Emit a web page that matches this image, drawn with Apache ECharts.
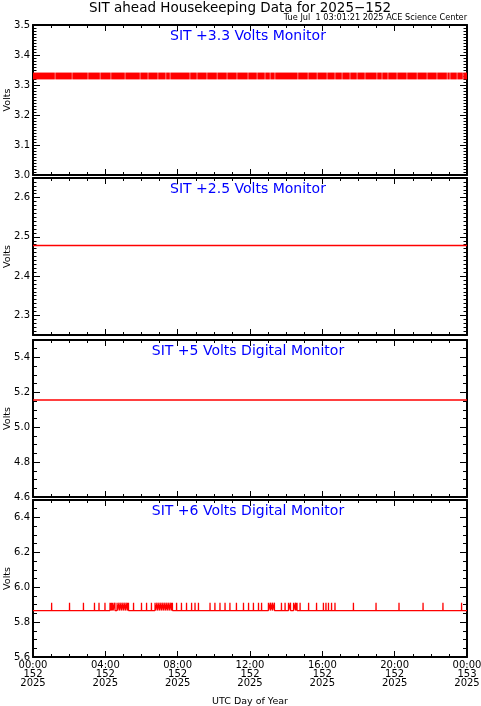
<!DOCTYPE html>
<html><head><meta charset="utf-8">
<script src="https://cdn.jsdelivr.net/npm/echarts@6/dist/echarts.min.js"></script>
<style>html,body{margin:0;padding:0;background:#fff}#c{width:481px;height:706px}</style>
</head><body><div id="c"></div>
<script>
// ---- tick labels ----
const xTickTimes = ['00:00','04:00','08:00','12:00','16:00','20:00','00:00'];
const xTickDays  = ['152','152','152','152','152','152','153'];
const xTickYears = ['2025','2025','2025','2025','2025','2025','2025'];

const panelTitles = ['SIT +3.3 Volts Monitor','SIT +2.5 Volts Monitor','SIT +5 Volts Digital Monitor','SIT +6 Volts Digital Monitor'];
const yMin = [3.0, 2.25, 4.6, 5.6];
const yMax = [3.5, 2.65, 5.5, 6.5];
const yMajorTicks = [
  [3.0,3.1,3.2,3.3,3.4,3.5],
  [2.3,2.4,2.5,2.6],
  [4.6,4.8,5.0,5.2,5.4],
  [5.6,5.8,6.0,6.2,6.4]
];
const yMinorStep = [0.01, 0.01, 0.05, 0.05];

// ---- data ----
// Panel 1: value toggles between two ADC levels; gaps where it holds
const p1Low = 3.3203, p1High = 3.3398;
const p1GapHours = [1.22,2.16,3.04,3.71,4.31,5.09,5.92,6.36,6.91,7.35,7.58,8.68,9.07,9.62,10.18,10.73,11.28,11.89,
  12.39,12.83,13.11,13.38,14.65,15.21,15.71,16.26,16.70,17.09,17.53,17.92,18.36,19.02,19.30,19.63,20.13,20.68,
  21.24,21.79,22.34,22.90,23.06,23.45,23.78];
// Panel 2 & 3: flat
const p2Hours = [0, 24], p2Volts = [2.478, 2.478];
const p3Hours = [0, 24], p3Volts = [5.156, 5.156];
// Panel 4: baseline with single-sample spikes
const p4BaseVolts = 5.866, p4SpikeVolts = 5.911;
const p4SpikeHours = [1.03,2.02,2.79,3.40,3.65,3.98,4.26,4.34,4.42,4.53,4.65,4.76,4.87,4.98,5.09,5.20,5.28,5.56,6.00,6.28,6.55,
  6.75,6.86,6.97,7.08,7.19,7.30,7.41,7.52,7.63,7.71,7.94,8.21,8.49,8.77,8.96,9.15,9.79,10.06,10.34,10.62,10.89,11.25,11.64,
  11.92,12.19,12.47,12.64,13.02,13.13,13.24,13.35,13.74,13.94,14.13,14.24,14.41,14.52,14.60,14.77,15.24,15.68,16.06,16.20,
  16.34,16.51,16.70,17.72,18.97,20.24,21.57,22.67,23.70];

// ---- build ----
const FONT = 'DejaVu Sans';
const RED = '#ff0000';
const gridTops = [25, 178, 340, 500];
const gridHeights = [150, 157, 157, 157];
const GL = 33, GW = 434;

const gapHalf = 0.013;
const p1Segs = [];
let s0 = 0;
p1GapHours.forEach(g => { p1Segs.push([s0, g - gapHalf, p1Low, p1High]); s0 = g + gapHalf; });
p1Segs.push([s0, 24, p1Low, p1High]);

const p4Data = [[0, p4BaseVolts]];
p4SpikeHours.forEach(h => { p4Data.push([h - 0.004, p4BaseVolts], [h, p4SpikeVolts], [h + 0.004, p4BaseVolts]); });
p4Data.push([24, p4BaseVolts]);

const grids = [], xAxes = [], yAxes = [];
const black = '#000';
for (let g = 0; g < 4; g++) {
  grids.push({left: GL, width: GW, top: gridTops[g], height: gridHeights[g], containLabel: false, outerBoundsMode: 'none'});
  const last = g === 3;
  ['bottom','top'].forEach(pos => {
    xAxes.push({
      gridIndex: g, type: 'value', position: pos, min: 0, max: 24, interval: 4,
      axisLine: {show: true, onZero: false, lineStyle: {color: black, width: 2}},
      axisTick: {show: true, inside: true, length: 6, lineStyle: {color: black, width: 1}},
      minorTick: {show: true, splitNumber: 4, length: 3, lineStyle: {color: black, width: 1}},
      splitLine: {show: false},
      axisLabel: {
        show: last && pos === 'bottom', margin: 4, color: black, fontFamily: FONT, fontSize: 10, lineHeight: 9,
        formatter: v => { const i = Math.round(v / 4); return xTickTimes[i] + '\n' + xTickDays[i] + '\n' + xTickYears[i]; }
      },
      name: (last && pos === 'bottom') ? 'UTC Day of Year' : '',
      nameLocation: 'middle', nameGap: 40, nameMoveOverlap: false,
      nameTextStyle: {color: black, fontFamily: FONT, fontSize: 9.5}
    });
  });
  ['left','right'].forEach(pos => {
    yAxes.push({
      gridIndex: g, type: 'value', position: pos, offset: 0, min: yMin[g], max: yMax[g],
      axisLine: {show: true, lineStyle: {color: black, width: 2}},
      axisTick: {show: true, inside: true, length: 7, customValues: yMajorTicks[g], lineStyle: {color: black, width: 1}},
      axisLabel: {show: pos === 'left', customValues: yMajorTicks[g], margin: 3, color: black, fontFamily: FONT, fontSize: 10,
        formatter: v => v.toFixed(1)},
      splitLine: {show: false},
      name: pos === 'left' ? 'Volts' : '', nameLocation: 'middle', nameGap: 20, nameRotate: 90, nameMoveOverlap: false,
      nameTextStyle: {color: black, fontFamily: FONT, fontSize: 9.5}
    });
    yAxes.push({
      gridIndex: g, type: 'value', position: pos, offset: 0, min: yMin[g], max: yMax[g], interval: yMinorStep[g],
      axisLine: {show: false},
      axisTick: {show: true, inside: true, length: g < 2 ? 3.5 : 4, lineStyle: {color: black, width: 1}},
      axisLabel: {show: false}, splitLine: {show: false}
    });
  });
}
// yAxis index per grid: left major = 4g
const series = [
  {
    type: 'custom', xAxisIndex: 0, yAxisIndex: 0, data: p1Segs, clip: true,
    encode: {x: [0, 1], y: [2, 3]},
    renderItem: (params, api) => {
      const a = api.coord([api.value(0), api.value(3)]);
      const b = api.coord([api.value(1), api.value(2)]);
      return {type: 'rect', shape: {x: a[0], y: a[1] - 0.5, width: Math.max(0, b[0] - a[0]), height: b[1] - a[1] + 1},
        style: {fill: RED}};
    }
  },
  {type: 'line', xAxisIndex: 2, yAxisIndex: 4, data: p2Hours.map((h, i) => [h, p2Volts[i]]), showSymbol: false, symbol: 'none',
    color: RED, itemStyle: {color: RED}, lineStyle: {color: RED, width: 1.3}},
  {type: 'line', xAxisIndex: 4, yAxisIndex: 8, data: p3Hours.map((h, i) => [h, p3Volts[i]]), showSymbol: false, symbol: 'none',
    color: RED, itemStyle: {color: RED}, lineStyle: {color: RED, width: 1.3}},
  {type: 'line', xAxisIndex: 6, yAxisIndex: 12, data: p4Data, showSymbol: false, symbol: 'none',
    color: RED, itemStyle: {color: RED}, lineStyle: {color: RED, width: 1.3}}
];

const graphic = [
  {type: 'text', x: 240, y: 8, style: {text: 'SIT ahead Housekeeping Data for 2025\u2212152', fill: black, font: '13.5px "' + FONT + '"', textAlign: 'center', textVerticalAlign: 'middle'}},
  {type: 'text', x: 467, y: 17.5, style: {text: 'Tue Jul  1 03:01:21 2025 ACE Science Center', fill: black, font: '8.2px "' + FONT + '"', textAlign: 'right', textVerticalAlign: 'middle'}}
];
for (let g = 0; g < 4; g++) {
  graphic.push({type: 'text', x: 248, y: gridTops[g] + 11, style: {text: panelTitles[g], fill: '#0000ff', font: '14px "' + FONT + '"', textAlign: 'center', textVerticalAlign: 'middle'}});
}

const chart = echarts.init(document.getElementById('c'), null, {renderer: 'canvas'});
chart.setOption({
  animation: false, backgroundColor: '#fff',
  grid: grids, xAxis: xAxes, yAxis: yAxes, series: series, graphic: graphic
});
</script></body></html>
